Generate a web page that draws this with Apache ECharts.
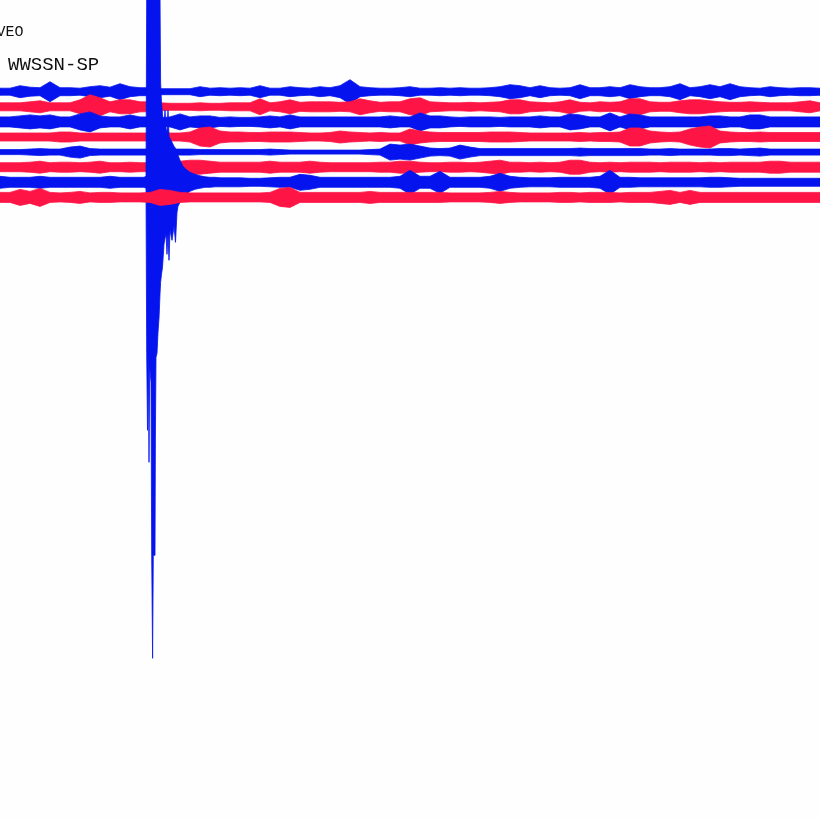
<!DOCTYPE html>
<html>
<head>
<meta charset="utf-8">
<style>
  html, body { margin: 0; padding: 0; background: #fefefe; }
  #chart { width: 820px; height: 820px; }
</style>
<script src="https://cdn.jsdelivr.net/npm/echarts@6/dist/echarts.min.js"></script>
</head>
<body>
<div id="chart"></div>
<script>
// ---- data (time in seconds along each helicorder line, amplitudes in counts) ----
const timeSec = [0,10,20,30,40,50,60,70,80,90, 100,110,120,130,140,150,160,170,180,190,
  200,210,220,230,240,250,260,270,280,290, 300,310,320,330,340,350,360,370,380,390,
  400,410,420,430,440,450,460,470,480,490, 500,510,520,530,540,550,560,570,580,590,
  600,610,620,630,640,650,660,670,680,690, 700,710,720,730,740,750,760,770,780,790,
  800,810,820];

const amp1 = [3.5,3.5,6,4.5,4,10,4,4,3.5,5, 6,4.5,8,5,4,4,3,3,3,3, 5,3.5,4,3.5,4,3.5,6,3.5,3.5,5,
  4,3.5,5,4,6,12,5,4,3.5,3.5, 4,5,3.5,3.5,4,3.5,4,3.5,3.5,4, 5,7,6,4,6,4,3.5,4,7,4,
  4,5,4,7,5,4,4,5,8,4, 5,7,5,8,5,4,3.5,5,4,3.5, 4,4,3.5];
const amp2 = [4,4,4,5,6,4,4,4,7,12, 9,5,7,7,5,5,4,3.5,3.5,3.5, 4,3.5,3.5,4,4,4,8,4,5,7,
  4.5,5,5,5,4.5,5,8,6,4.5,5, 5,8,9,5,4.5,4,4,4.5,4,4.5, 5,7,7,5,4.5,4,5,7,4.5,4,
  5,4.5,5,8,8,5,4.5,4.5,6,7, 7,6,5,4.5,4.5,5,4.5,4,4,4, 5,6,4];
const amp3 = [5,5,6,7,6,7,5,5,8,10, 6,5,5,7,5,5,4,5,8,5, 6,6,4.5,5,4.5,4.5,5,6,5,7,
  5,5,5,5,5,5,5,5,5,6, 5,5,9,6,6,5,4.5,5,5,5, 4.5,5,5,5,6,5,5,8,7,5,
  5,9,5,8,7,5,5,5,5,5, 5,6,6,5,5,7,7,5,5,5, 5,5,5];
const amp4 = [4,4,4,4,4,4,5,5,4,4, 4,4,4,4,4,4,6,4,4,5, 9,10,6,5,5,4.5,4.5,5,5,5,
  4.5,4,4,4.5,6,5,4.5,4,4.5,4, 4,8,6,5,4.5,4.5,4.5,4.5,4.5,5, 5,5,4.5,4,4,4,4,4,4.5,4,
  4.5,4.5,5,9,9,6,5,4.5,5,8, 10,11,6,5,4.5,4.5,5,4.5,4.5,4.5, 4.5,4.5,4.5];
const amp5 = [2.5,2.5,2.5,3,3.5,3,3,5,6,3.5, 3,3,3,3,3,3,3,3,3,3, 2.5,2.5,2.5,2.5,2.5,2.5,2.5,3,2.5,2,
  2,2,2,2,2,2,2,2.5,3,8, 7,8,6,4,3.5,4,7,5,3.5,3.5, 3.5,3.5,3.5,3.5,3.5,3.5,3.5,3.5,4,3.5,
  3.5,3.5,3.5,3.5,3.5,3,3,3.5,3,3, 3,3,3.5,3.5,3,3.5,4,3,3,3, 3,3,3];
const amp6 = [4.5,4.5,4.5,5,6,4.5,5,5,4.5,5, 6,4.5,4.5,5,4.5,4.5,5,5,6,7, 7,6,5,5,5,5,5,6,5,5,
  5,6,5,4.5,4.5,4.5,4.5,4.5,5,5, 6,6,5,4.5,4.5,5,5,4.5,5,6, 7,5,5,4.5,5,4.5,5,7,7,5,
  4.5,5,4.5,5,5,5,4.5,5,5,5, 4.5,5,4.5,5,5,5,5,6,6,5, 5,5,5];
const amp7 = [6,5,5,5,6,5,5,5,5,5, 5,6,5,5,5,5,5,5,5,5, 5,5,4.5,4.5,4.5,4,4,4.5,5,5,
  8,7,5,5,5,5,5,5,5,5, 6,12,6,6,11,5,5,5,5,6, 9,6,5,4.5,4.5,4.5,5,5,5,5,
  6,12,5,5,4.5,4.5,4.5,4.5,4.5,4.5, 4.5,5,5,4.5,4,4,4,4,4,4, 4,4,4];
const amp8 = [5,5,8,6,9,5,4.5,5,6,4.5, 5,5,4.5,4.5,4.5,5,8,7,5,4.5, 4.5,4.5,4.5,4.5,4.5,4.5,4.5,5,9,10,
  5,5,5,5,5,5,5,6,5,5, 5,5,5,5,5,4.5,4.5,4.5,4.5,5, 6,5,4.5,4.5,4.5,4.5,5,5,4.5,5,
  5,5,4.5,5,5,5,6,7,5,7, 5,5,5,5,5,5,5,5,5,5, 5,5,5];

// earthquake on line 7: upper / lower envelope (counts)
const eventSec  = [144,146,146.7,147.5,148.3,149,149.7,151,151.7,152.6,153.3,155,155.4,156,157,158,159,160,
  160.6,161.5,162.5,164,165,166,167,168,169,170,172,174,175.5,177,178,180,183,186,190,195,200,205,210,215];
const eventUp   = [5,6,190,190,190,190,190,190,190,190,190,190,190,190,190,190,190,190,
  100,80,68,56,72,54,50,72,46,44,40,36,34,30,27,22,16,13,10,8,6.5,5.5,5,5];
const eventDown = [5,6,170,248,172,280,185,200,373,476,373,373,256,175,171,150,136,112,
  100,92,85,62,56,52,72,52,78,48,58,44,60,30,24,20,15,12,9,7,6,5,5,4.5];

const lineColors = ['#0514ee', '#ff1446'];
const traceGap = 15.1;   // counts between helicorder lines
const stationText = 'VEO';
const networkText = 'WWSSN-SP';

// ---- build ----
const amps = [amp1, amp2, amp3, amp4, amp5, amp6, amp7, amp8];
function traceEnvelope(i) {
  const pts = [];
  for (let k = 0; k < timeSec.length; k++) {
    if (i === 6 && timeSec[k] >= eventSec[0] && timeSec[k] <= eventSec[eventSec.length - 1]) continue;
    pts.push([timeSec[k], amps[i][k], amps[i][k]]);
  }
  if (i === 6) {
    for (let k = 0; k < eventSec.length; k++) pts.push([eventSec[k], eventUp[k], eventDown[k]]);
    pts.sort((a, b) => a[0] - b[0]);
  }
  return pts;
}

const series = amps.map((a, i) => {
  const env = traceEnvelope(i);
  const base = i * traceGap;
  const color = lineColors[i % 2];
  return {
    type: 'custom',
    name: 'line' + (i + 1),
    data: [[0, base]],
    encode: { x: 0, y: 1 },
    z: 2 + i,
    silent: true,
    renderItem: function (params, api) {
      const top = env.map(p => api.coord([p[0], base - p[1]]));
      const bot = env.map(p => api.coord([p[0], base + p[2]])).reverse();
      return {
        type: 'polygon',
        shape: { points: top.concat(bot) },
        style: { fill: color, stroke: color, lineWidth: 0.8 }
      };
    }
  };
});

const chart = echarts.init(document.getElementById('chart'), null, { renderer: 'canvas' });
chart.setOption({
  backgroundColor: '#fefefe',
  animation: false,
  grid: { left: 0, right: 0, top: 0, bottom: 0 },
  xAxis: { type: 'value', min: 0, max: 820, show: false },
  yAxis: { type: 'value', min: -91.7, max: 728.3, inverse: true, show: false },
  graphic: [
    { type: 'text', x: -3.5, y: 25, z: 100,
      style: { text: stationText, font: '15px "Liberation Mono"', fill: '#111', verticalAlign: 'top' } },
    { type: 'text', x: 8, y: 55, z: 100,
      style: { text: networkText, font: '19px "Liberation Mono"', fill: '#111', verticalAlign: 'top' } }
  ],
  series: series
});
</script>
</body>
</html>
